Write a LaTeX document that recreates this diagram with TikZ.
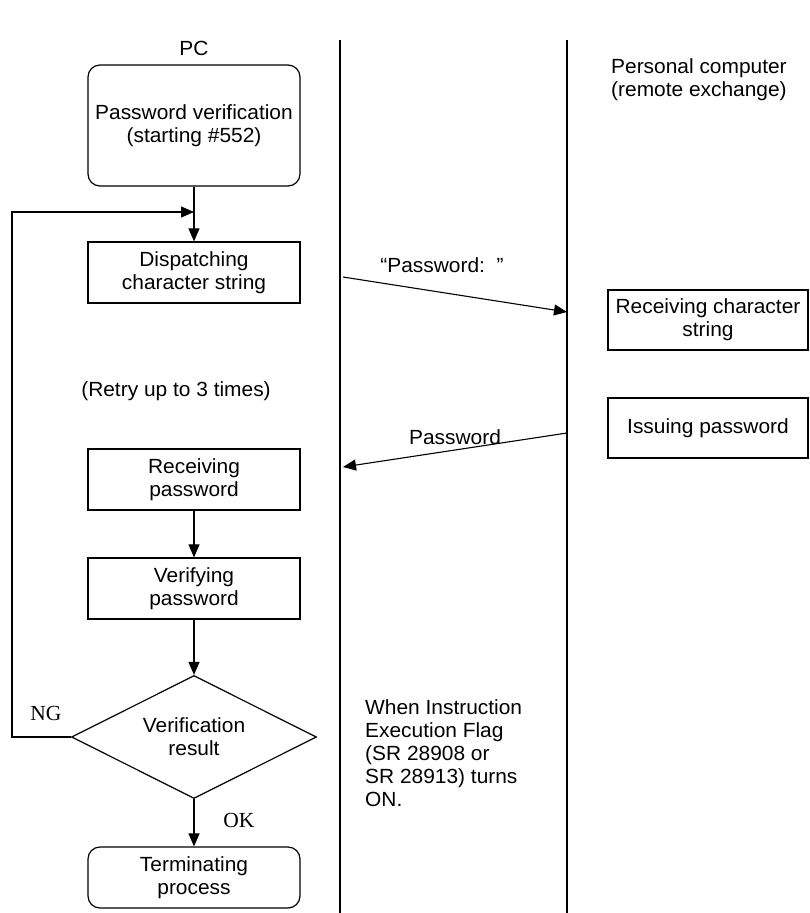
\documentclass[tikz,border=0pt]{standalone}
\usepackage{fontspec}
\setmainfont{Liberation Sans}[FakeStretch=1.02]
\newfontfamily\serifnote{Liberation Serif}
\usetikzlibrary{shapes.geometric,arrows.meta}
\begin{document}
\begin{tikzpicture}[x=1pt,y=-1pt,
  every node/.style={font=\fontsize{20.5}{23}\selectfont, inner sep=0pt, align=center},
  procbox/.style={draw, line width=1.2pt, minimum width=212pt, minimum height=61pt},
  roundbox/.style={procbox, rounded corners=12pt},
  decision/.style={draw, line width=1.2pt, diamond, minimum width=245pt, minimum height=123pt, aspect=2},
  flow/.style={line width=1.1pt, -{Triangle[length=13pt,width=11pt]}},
  divider/.style={line width=1.1pt},
  plain/.style={line width=1.1pt},
  sflabel/.style={font=\serifnote\fontsize{21.5}{23}\selectfont}]
\useasboundingbox (0,0) rectangle (809,913);

% lane dividers
\coordinate (d1t) at (340,40); \coordinate (d1b) at (340,913);
\coordinate (d2t) at (567,40); \coordinate (d2b) at (567,913);
\draw[divider] (d1t) -- (d1b);
\draw[divider] (d2t) -- (d2b);

% headers
\node (pc) at (194,48) {PC};
\node[anchor=west, align=left] (remote) at (611,80) {Personal computer\\(remote exchange)};

% PC flow
\node[roundbox, minimum height=121pt] (start) at (194,125.5) {Password verification\\(starting \#552)};
\node[procbox] (dispatch) at (194,272.5) {Dispatching\\character string};
\node (retry) at (176,391) {(Retry up to 3 times)};
\node[procbox] (recvpw) at (194,479.5) {Receiving\\password};
\node[procbox] (verify) at (194,588.5) {Verifying\\password};
\node[decision] (result) at (194,737) {Verification\\result};
\node[roundbox] (term) at (194,877.5) {Terminating\\process};

\coordinate (join) at (194,212);
\coordinate (loopb) at (12,737);
\coordinate (loopt) at (12,212);

\draw[plain] (start.south) -- (join);
\draw[flow] (join) -- (dispatch.north);
\draw[flow] (recvpw.south) -- (verify.north);
\draw[flow] (verify.south) -- (result.north);
\draw[flow] (result.south) -- (term.north);
\draw[flow] (result.west) -- (loopb) -- (loopt) -- (join);

\node[sflabel] (ng) at (46,713) {NG};
\node[sflabel] (ok) at (239,820) {OK};

% remote side
\node[procbox, minimum width=200pt, minimum height=60pt] (recvstr) at (708,320) {Receiving character\\string};
\node[procbox, minimum width=200pt, minimum height=60pt] (issue) at (708,428) {Issuing password};

% messages
\coordinate (m1s) at (343,277);
\coordinate (m1e) at (567,312);
\draw[flow] (m1s) -- (m1e);
\node (m1lab) at (442,265) {“Password:\ \ ”};

\coordinate (m2s) at (567,433);
\coordinate (m2e) at (343,467);
\draw[flow] (m2s) -- (m2e);
\node (m2lab) at (455,437) {Password};

% note
\node[anchor=north west, align=left] (note) at (365,699) {When Instruction\\Execution Flag\\(SR 28908 or\\SR 28913) turns\\ON.};
\end{tikzpicture}
\end{document}
